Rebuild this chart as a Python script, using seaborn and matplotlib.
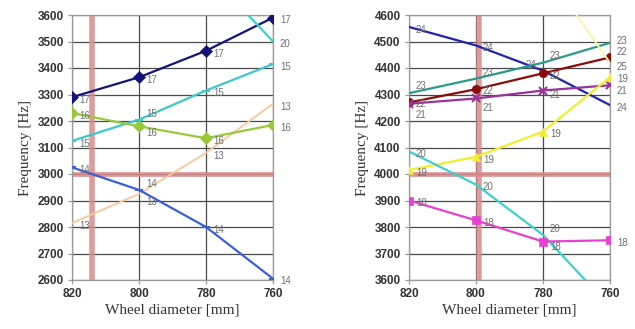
import numpy as np
import pandas as pd
import matplotlib
matplotlib.use("Agg")
import matplotlib.pyplot as plt
import seaborn as sns

sns.set_theme(style="white")
plt.rcParams['font.family'] = ['Liberation Sans', 'DejaVu Sans']

diameters = [820, 800, 780, 760]

# Left panel series
left_series = {
    "17": [3290, 3365, 3465, 3590],
    "20": [4085, 3960, 3770, 3500],
    "15": [3125, 3205, 3315, 3415],
    "13": [2815, 2925, 3080, 3265],
    "16": [3230, 3180, 3135, 3185],
    "14": [3025, 2940, 2800, 2605],
}
# Right panel series
right_series = {
    "24": [4555, 4485, 4390, 4260],
    "23": [4305, 4360, 4420, 4495],
    "22": [4270, 4320, 4380, 4440],
    "25": [np.nan, np.nan, 4780, 4420],
    "21": [4265, 4285, 4315, 4335],
    "19": [4015, 4065, 4160, 4365],
    "20": [4085, 3960, 3770, 3500],
    "18": [3900, 3825, 3745, 3750],
}

styles = {
    "13": dict(color="#f9c898", marker=None, lw=1.3),
    "14": dict(color="#3a5fd9", marker="_", lw=1.6),
    "15": dict(color="#3cc8cc", marker="_", lw=1.6),
    "16": dict(color="#99c93a", marker="D", lw=1.6),
    "17": dict(color="#141478", marker="D", lw=1.6),
    "20": dict(color="#3cd0d0", marker=None, lw=1.6),
    "18": dict(color="#e840d0", marker="s", lw=1.6),
    "19": dict(color="#f2ee2a", marker="^", lw=1.6),
    "21": dict(color="#993399", marker="x", lw=1.6),
    "22": dict(color="#8b0a0a", marker="o", lw=1.6),
    "23": dict(color="#2a9a8c", marker=None, lw=1.6),
    "24": dict(color="#2222b0", marker=None, lw=1.6),
    "25": dict(color="#fbf6a0", marker=None, lw=1.3),
}

# label offsets (points) for crowded spots: (panel, series, diameter)
label_offsets = {
    ("L", "15", 800): (5, 4), ("L", "16", 800): (5, -5),
    ("L", "14", 800): (5, 4), ("L", "13", 800): (5, -6),
    ("R", "23", 820): (5, 5), ("R", "22", 820): (5, -1), ("R", "21", 820): (5, -8),
    ("R", "23", 800): (5, 4), ("R", "22", 800): (5, -1), ("R", "21", 800): (5, -7),
    ("R", "23", 780): (5, 5), ("R", "24", 780): (-5, 4), ("R", "22", 780): (5, -2),
    ("R", "21", 780): (5, -3),
    ("R", "20", 780): (5, 4), ("R", "18", 780): (5, -4),
    ("R", "23", 760): (5, 1), ("R", "22", 760): (5, 4), ("R", "25", 760): (5, -3),
    ("R", "19", 760): (5, -1), ("R", "21", 760): (5, -4), ("R", "24", 760): (5, -2),
}

fig = plt.figure(figsize=(6.35, 3.29), dpi=100)
axL = fig.add_axes([72/635, 49/329, 201/635, 265/329])
axR = fig.add_axes([409/635, 49/329, 201/635, 265/329])

def draw(ax, panel, series, ylim, vline, hline):
    ax.set_xlim(820, 760)
    ax.set_ylim(*ylim)
    ax.set_yticks(np.arange(ylim[0], ylim[1] + 1, 100))
    ax.set_xticks(diameters)
    ax.grid(True, color="#4a4a4a", lw=0.9)
    ax.set_axisbelow(True)
    for s in ax.spines.values():
        s.set_color("#9a9a9a")
        s.set_linewidth(0.9)
    ax.axvline(vline, color="#d98a8a", lw=4, alpha=0.85, zorder=1.5)
    ax.axhline(hline, color="#d98a8a", lw=3.5, alpha=0.85, zorder=1.5)
    for name, vals in series.items():
        st = styles[name]
        df = pd.DataFrame({"d": diameters, "f": vals})
        sns.lineplot(data=df, x="d", y="f", ax=ax, color=st["color"],
                     lw=st["lw"], marker=st["marker"], markersize=6,
                     markeredgecolor=st["color"],
                     markeredgewidth=1.5 if st["marker"] in ("x", "_") else 0.5,
                     zorder=3)
        for d, v in zip(diameters, vals):
            if np.isnan(v) or v < ylim[0] or v > ylim[1]:
                continue
            off = label_offsets.get((panel, name, d), (5, -2))
            ax.annotate(name, (d, v), xytext=off, textcoords="offset points",
                        fontsize=7, color="#707070",
                        ha="left" if off[0] >= 0 else "right", va="center",
                        annotation_clip=False, zorder=4)
    ax.tick_params(axis="both", labelsize=8.5, colors="#9a9a9a", labelcolor="#333333",
                   length=3, width=0.9, pad=3, direction="out",
                   bottom=True, left=True)
    for lab in ax.get_xticklabels() + ax.get_yticklabels():
        lab.set_fontweight("bold")
    ax.set_xlabel("Wheel diameter [mm]", family="Liberation Serif", fontsize=11,
                  color="#333333", labelpad=2)
    ax.set_ylabel("Frequency [Hz]", family="Liberation Serif", fontsize=11,
                  color="#333333", labelpad=4)

draw(axL, "L", left_series, (2600, 3600), 814, 3000)
draw(axR, "R", right_series, (3600, 4600), 799, 4000)

fig.savefig("out.png", dpi=100)
